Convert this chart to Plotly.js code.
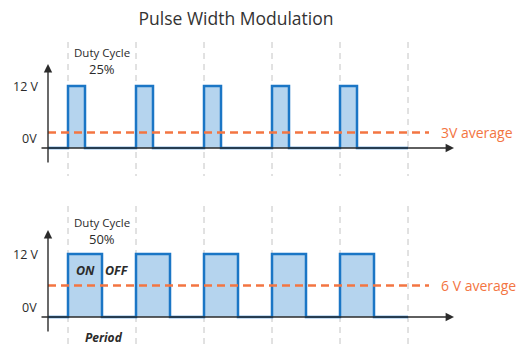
<!DOCTYPE html>
<html>
<head>
<meta charset="utf-8">
<script src="https://cdn.plot.ly/plotly-3.0.1.min.js"></script>
<style>html,body{margin:0;padding:0;background:#fff;}#chart{width:528px;height:346px;}</style>
</head>
<body>
<div id="chart"></div>
<script>
// ---- data ----
var pulseStarts = [0, 1, 2, 3, 4];          // start of each period (in periods)
var signalEnd = 5;                          // end of the drawn signal (periods)
var highVoltage = 12;                       // V
var lowVoltage = 0;                         // V
var dutyCycles = [0.25, 0.50];              // top, bottom
var averages = [3, 6];                      // V
var averageLabels = ['3V average', '6 V average'];
var dutyLabels = ['25%', '50%'];
var yTickLabels = ['12 V', '0V'];
var gridPositions = [0, 1, 2, 3, 4, 5];

// ---- layout helpers (pixel geometry) ----
var W = 528, H = 346;
var x0px = 68, periodPx = 68;
function px2x(p){ return (p - x0px) / periodPx; }
var panels = [
  {p0: 148, p12: 86, a: 30, b: 180},
  {p0: 317, p12: 254, a: 190, b: 346}
];
panels.forEach(function(P){
  P.s = (P.p0 - P.p12) / highVoltage;
  P.range = [(P.p0 - P.b) / P.s, (P.p0 - P.a) / P.s];
  P.domain = [1 - P.b / H, 1 - P.a / H];
  P.py = function(p){ return (P.p0 - p) / P.s; };
});

var blue = '#1b76c5', fillBlue = '#b5d4ee', orange = '#f37542', grey = '#c4c4c4', dark = '#2b2b2b';
var font = '"Open Sans", "Noto Sans", sans-serif';

var traces = [];
var annotations = [];

panels.forEach(function(P, i){
  var ya = i === 0 ? 'y' : 'y2';
  // grid dashed verticals
  var gx = [], gy = [];
  gridPositions.forEach(function(g){
    gx.push(g, g, null);
    gy.push(P.py(i === 0 ? 42 : 206), P.py(i === 0 ? 176 : 346), null);
  });
  traces.push({x: gx, y: gy, xaxis: 'x', yaxis: ya, mode: 'lines', hoverinfo: 'skip',
    line: {color: grey, width: 1, dash: '6px,5px'}});

  // PWM signal
  var sx = [px2x(48)], sy = [lowVoltage];
  var d = dutyCycles[i];
  pulseStarts.forEach(function(t){
    sx.push(t, t, t + d, t + d);
    sy.push(lowVoltage, highVoltage, highVoltage, lowVoltage);
  });
  sx.push(signalEnd); sy.push(lowVoltage);
  traces.push({x: sx, y: sy, xaxis: 'x', yaxis: ya, mode: 'lines', fill: 'tozeroy',
    fillcolor: fillBlue, hoverinfo: 'skip', line: {color: blue, width: 2.5}});

  // average dashed line
  traces.push({x: [px2x(48), px2x(429)], y: [averages[i], averages[i]], xaxis: 'x', yaxis: ya,
    mode: 'lines', hoverinfo: 'skip', line: {color: orange, width: 2.5, dash: '8px,5px'}});

  // axes with arrows
  annotations.push({x: px2x(454), y: lowVoltage, ax: px2x(40), ay: lowVoltage, xref: 'x', yref: ya,
    axref: 'x', ayref: ya, text: '', showarrow: true, arrowhead: 2, arrowsize: 1.2, arrowwidth: 1.4, arrowcolor: dark});
  annotations.push({x: px2x(48), y: P.py(i === 0 ? 64 : 230), ax: px2x(48), ay: P.py(i === 0 ? 164 : 333), xref: 'x', yref: ya,
    axref: 'x', ayref: ya, text: '', showarrow: true, arrowhead: 2, arrowsize: 1.2, arrowwidth: 1.4, arrowcolor: dark});

  // tick labels
  annotations.push({x: px2x(41), y: highVoltage, xref: 'x', yref: ya, text: yTickLabels[0], showarrow: false,
    xanchor: 'right', yanchor: 'middle', font: {family: font, size: 12.5, color: dark}});
  annotations.push({x: px2x(39), y: P.py(i === 0 ? 138 : 307), xref: 'x', yref: ya, text: yTickLabels[1], showarrow: false,
    xanchor: 'right', yanchor: 'middle', font: {family: font, size: 12.5, color: dark}});

  // duty cycle labels
  annotations.push({x: 0.5, y: P.py(i === 0 ? 52 : 222), xref: 'x', yref: ya, text: 'Duty Cycle', showarrow: false,
    xanchor: 'center', yanchor: 'middle', font: {family: font, size: 11.5, color: dark}});
  annotations.push({x: 0.5, y: P.py(i === 0 ? 69 : 239), xref: 'x', yref: ya, text: dutyLabels[i], showarrow: false,
    xanchor: 'center', yanchor: 'middle', font: {family: font, size: 13, color: dark}});

  // average labels
  annotations.push({x: px2x(439), y: averages[i], xref: 'x', yref: ya, text: averageLabels[i], showarrow: false,
    xanchor: 'left', yanchor: 'middle', font: {family: font, size: 14, color: orange}});
});

// ON / OFF / Period
annotations.push({x: px2x(85), y: panels[1].py(270), xref: 'x', yref: 'y2', text: '<b><i>ON</i></b>', showarrow: false,
  font: {family: font, size: 12.5, color: dark}});
annotations.push({x: px2x(117), y: panels[1].py(270), xref: 'x', yref: 'y2', text: '<b><i>OFF</i></b>', showarrow: false,
  font: {family: font, size: 12.5, color: dark}});
annotations.push({x: px2x(104), y: panels[1].py(337), xref: 'x', yref: 'y2', text: '<b><i>Period</i></b>', showarrow: false,
  font: {family: font, size: 12, color: dark}});

var layout = {
  width: W, height: H,
  margin: {l: 0, r: 0, t: 0, b: 0},
  paper_bgcolor: '#fff', plot_bgcolor: '#fff',
  showlegend: false,
  title: {text: 'Pulse Width Modulation', x: 236 / W, xanchor: 'center', y: 1 - 19 / H, yanchor: 'middle',
    font: {family: font, size: 17.5, color: '#333'}},
  xaxis: {range: [px2x(0), px2x(W)], visible: false, fixedrange: true},
  yaxis: {domain: panels[0].domain, range: panels[0].range, visible: false, fixedrange: true},
  yaxis2: {domain: panels[1].domain, range: panels[1].range, visible: false, fixedrange: true, anchor: 'x'},
  annotations: annotations
};

Plotly.newPlot('chart', traces, layout, {staticPlot: true, displayModeBar: false});
</script>
</body>
</html>
